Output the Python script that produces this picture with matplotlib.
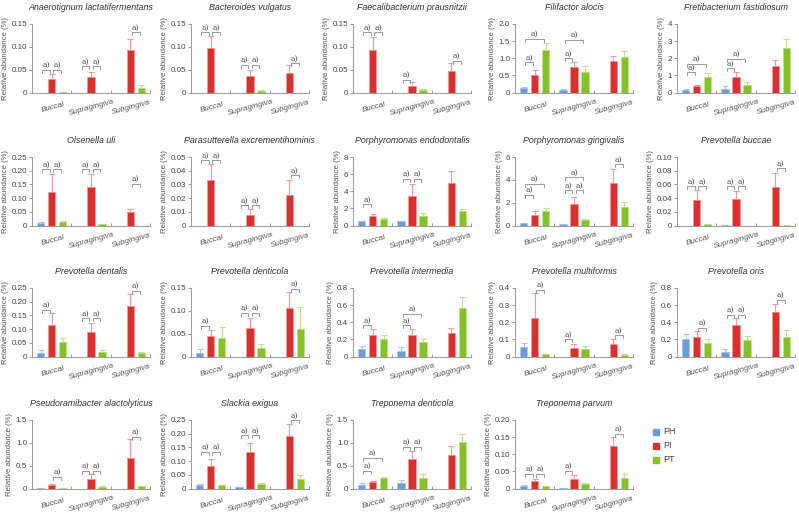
import matplotlib
matplotlib.use("Agg")
import matplotlib.pyplot as plt
import numpy as np

nan = np.nan

# site groups and patient groups
sites = ["Buccal", "Supragingiva", "Subgingiva"]
groups = ["PH", "PI", "PT"]
colors = ["#6b9bd8", "#d9302f", "#84c225"]
err_colors = ["#a9c6ea", "#f19a9a", "#bfe08f"]

species = [
    "Anaerotignum lactatifermentans", "Bacteroides vulgatus", "Faecalibacterium prausnitzii",
    "Filifactor alocis", "Fretibacterium fastidiosum",
    "Olsenella uli", "Parasutterella excrementihominis", "Porphyromonas endodontalis",
    "Porphyromonas gingivalis", "Prevotella buccae",
    "Prevotella dentalis", "Prevotella denticola", "Prevotella intermedia",
    "Prevotella multiformis", "Prevotella oris",
    "Pseudoramibacter alactolyticus", "Slackia exigua", "Treponema denticola",
    "Treponema parvum",
]

# y axis: (top, step, decimals)
y_axes = [
    (0.15, 0.05, 2), (0.15, 0.05, 2), (0.15, 0.05, 2), (2.0, 0.5, 1), (4, 1, 0),
    (0.25, 0.05, 2), (0.05, 0.01, 2), (8, 2, 0), (6, 2, 0), (0.10, 0.02, 2),
    (0.25, 0.05, 2), (0.15, 0.05, 2), (0.8, 0.2, 1), (0.4, 0.1, 1), (0.8, 0.2, 1),
    (1.5, 0.5, 1), (0.25, 0.05, 2), (1.5, 0.5, 1), (0.20, 0.05, 2),
]

# mean values [Buccal, Supragingiva, Subgingiva]
ph_vals = [
    [nan, nan, nan], [nan, nan, nan], [nan, nan, nan], [0.135, 0.077, nan], [0.17, 0.23, nan],
    [0.0085, nan, nan], [nan, nan, nan], [0.47, 0.47, nan], [0.2, 0.12, nan], [nan, 0.001, nan],
    [0.013, nan, nan], [0.0087, nan, nan], [0.085, 0.066, nan], [0.054, nan, nan], [0.2, 0.054, nan],
    [0.015, nan, nan], [0.012, 0.006, nan], [0.08, 0.124, nan], [0.0068, 0.002, nan],
]
pi_vals = [
    [0.030, 0.033, 0.092], [0.097, 0.037, 0.0435], [0.092, 0.015, 0.046], [0.52, 0.73, 0.92], [0.37, 0.93, 1.53],
    [0.124, 0.140, 0.049], [0.033, 0.008, 0.022], [1.09, 3.48, 5.0], [0.96, 1.84, 3.71], [0.0376, 0.038, 0.0566],
    [0.114, 0.088, 0.186], [0.044, 0.0616, 0.107], [0.25, 0.247, 0.278], [0.222, 0.048, 0.0715], [0.228, 0.363, 0.521],
    [0.08, 0.218, 0.663], [0.081, 0.135, 0.192], [0.146, 0.655, 0.743], [0.022, 0.027, 0.123],
]
pt_vals = [
    [0.0015, nan, 0.010], [nan, 0.004, nan], [nan, 0.005, nan], [1.25, 0.61, 1.05], [0.89, 0.46, 2.61],
    [0.012, 0.005, nan], [nan, nan, nan], [0.74, 1.09, 1.72], [1.26, 0.5, 1.58], [0.0015, nan, 0.001],
    [0.052, 0.016, 0.013], [0.041, 0.018, 0.061], [0.20, 0.166, 0.568], [0.012, 0.044, 0.010], [0.158, 0.193, 0.228],
    [0.015, 0.036, 0.044], [0.011, 0.017, 0.035], [0.219, 0.24, 1.02], [0.006, 0.012, 0.032],
]

# upper error extents
ph_err = [
    [0, 0, 0], [0, 0, 0], [0, 0, 0], [0.015, 0.023, 0], [0.03, 0.14, 0],
    [0.0035, 0, 0], [0, 0, 0], [0.03, 0.03, 0], [0.03, 0.02, 0], [0, 0, 0],
    [0.009, 0, 0], [0.0073, 0, 0], [0.039, 0.042, 0], [0.023, 0, 0], [0.066, 0.031, 0],
    [0.003, 0, 0], [0.006, 0.001, 0], [0.044, 0.066, 0], [0.002, 0.0005, 0],
]
pi_err = [
    [0.011, 0.012, 0.025], [0.027, 0.013, 0.0175], [0.029, 0.007, 0.019], [0.14, 0.17, 0.15], [0.07, 0.27, 0.34],
    [0.065, 0.047, 0.012], [0.012, 0.004, 0.0114], [0.28, 1.40, 1.40], [0.27, 0.62, 1.26], [0.0144, 0.013, 0.0204],
    [0.043, 0.036, 0.042], [0.015, 0.0234, 0.034], [0.074, 0.077, 0.054], [0.149, 0.027, 0.0325], [0.065, 0.089, 0.093],
    [0.015, 0.095, 0.427], [0.025, 0.032, 0.042], [0.021, 0.175, 0.197], [0.007, 0.011, 0.027],
]
pt_err = [
    [0, 0, 0.007], [0, 0.001, 0], [0, 0.003, 0], [0.19, 0.16, 0.16], [0.25, 0.14, 0.50],
    [0.005, 0.002, 0], [0, 0, 0], [0.12, 0.39, 0.23], [0.29, 0.08, 0.50], [0.0005, 0, 0.0003],
    [0.016, 0.006, 0.003], [0.024, 0.010, 0.047], [0.055, 0.034, 0.127], [0.003, 0.018, 0.003], [0.042, 0.05, 0.077],
    [0.003, 0.008, 0.014], [0.002, 0.004, 0.015], [0.043, 0.073, 0.17], [0.001, 0.0035, 0.01],
]

# significance brackets: (site, group a, group b, level)
brackets = [
    [(0, 0, 1, 0.05), (0, 1, 2, 0.05), (1, 0, 1, 0.058), (1, 1, 2, 0.058), (2, 1, 2, 0.132)],
    [(0, 0, 1, 0.132), (0, 1, 2, 0.132), (1, 0, 1, 0.061), (1, 1, 2, 0.061), (2, 1, 2, 0.0645)],
    [(0, 0, 1, 0.132), (0, 1, 2, 0.132), (1, 0, 1, 0.028), (2, 1, 2, 0.070)],
    [(0, 0, 1, 0.89), (0, 0, 2, 1.57), (1, 0, 1, 1.0), (1, 0, 2, 1.54)],
    [(0, 0, 1, 1.18), (0, 0, 2, 1.68), (1, 0, 1, 1.43), (1, 0, 2, 1.97)],
    [(0, 0, 1, 0.205), (0, 1, 2, 0.205), (1, 0, 1, 0.205), (1, 1, 2, 0.205), (2, 1, 2, 0.152)],
    [(0, 0, 1, 0.0476), (0, 1, 2, 0.0476), (1, 0, 1, 0.0146), (1, 1, 2, 0.0146), (2, 1, 2, 0.0366)],
    [(0, 0, 1, 2.46), (1, 0, 1, 5.47), (1, 1, 2, 5.47)],
    [(0, 0, 1, 2.69), (0, 0, 2, 3.65), (1, 0, 1, 3.07), (1, 1, 2, 3.07), (1, 0, 2, 4.24), (2, 1, 2, 5.35)],
    [(0, 0, 1, 0.0576), (0, 1, 2, 0.0576), (1, 0, 1, 0.0576), (1, 1, 2, 0.0576), (2, 1, 2, 0.084)],
    [(0, 0, 1, 0.171), (1, 0, 1, 0.139), (1, 1, 2, 0.139), (2, 1, 2, 0.240)],
    [(0, 0, 1, 0.067), (1, 0, 1, 0.0957), (1, 1, 2, 0.0957), (2, 1, 2, 0.1486)],
    [(0, 0, 1, 0.367), (1, 0, 1, 0.367), (1, 0, 2, 0.498)],
    [(0, 1, 2, 0.39), (1, 0, 1, 0.10), (2, 1, 2, 0.124)],
    [(0, 1, 2, 0.336), (1, 0, 1, 0.49), (1, 1, 2, 0.49), (2, 1, 2, 0.664)],
    [(0, 1, 2, 0.262), (1, 0, 1, 0.386), (1, 1, 2, 0.386), (2, 1, 2, 1.136)],
    [(0, 0, 1, 0.135), (0, 1, 2, 0.135), (1, 0, 1, 0.194), (1, 1, 2, 0.194), (2, 1, 2, 0.249)],
    [(0, 0, 1, 0.386), (0, 0, 2, 0.677), (1, 0, 1, 0.918), (1, 1, 2, 0.918)],
    [(0, 0, 1, 0.0437), (0, 1, 2, 0.0437), (1, 0, 1, 0.0515), (2, 1, 2, 0.160)],
]

plt.rcParams["font.family"] = ["Liberation Sans", "DejaVu Sans"]
W, H = 799, 513
fig = plt.figure(figsize=(W / 100, H / 100), dpi=100)

col_left = [32, 191, 353, 515, 677]
row_top = [24, 157, 288, 420]
ax_w, ax_h = 118, 68.5
offs = [-0.28, 0.0, 0.28]
bw = 0.19
text_c = "#555555"
line_c = "#8a8a8a"

all_vals = [ph_vals, pi_vals, pt_vals]
all_err = [ph_err, pi_err, pt_err]

for k, name in enumerate(species):
    r, c = divmod(k, 5)
    ax = fig.add_axes([col_left[c] / W, 1 - (row_top[r] + ax_h) / H, ax_w / W, ax_h / H])
    top, step, dec = y_axes[k]
    x = np.arange(3)
    for g in range(3):
        v = np.array(all_vals[g][k], dtype=float)
        e = np.array(all_err[g][k], dtype=float)
        ok = ~np.isnan(v)
        ax.bar(x[ok] + offs[g], v[ok], width=bw, color=colors[g],
               edgecolor=err_colors[g], linewidth=0.5, zorder=2)
        ax.errorbar(x[ok] + offs[g], v[ok], yerr=[np.zeros(ok.sum()), e[ok]], fmt="none",
                    ecolor=err_colors[g], elinewidth=0.8, capsize=1.9, capthick=0.8, zorder=1)

    dy = top * 3.0 / ax_h
    for (s, a, b, lev) in brackets[k]:
        x1 = s + offs[a] + 0.04
        x2 = s + offs[b] - 0.04
        ax.plot([x1, x1, x2, x2], [lev - dy, lev, lev, lev - dy], color=line_c, lw=0.6, zorder=3)
        ax.text((x1 + x2) / 2, lev + dy * 0.2, "a)", ha="center", va="bottom",
                fontsize=5.4, color="#444444", family="DejaVu Serif")

    ax.set_xlim(-0.5, 2.5)
    ax.set_ylim(0, top)
    ticks = np.arange(0, top + step / 2, step)
    ax.set_yticks(ticks)
    ax.set_yticklabels(["0" if t == 0 else f"{t:.{dec}f}" for t in ticks])
    ax.set_xticks(x)
    ax.set_xticklabels(sites, rotation=15, fontstyle="italic", fontsize=5.8, color=text_c,
                       rotation_mode="anchor", ha="center", va="top")
    ax.set_xticks([0.5, 1.5, 2.5], minor=True)
    ax.tick_params(axis="x", which="major", length=0, pad=8.5)
    ax.tick_params(axis="x", which="minor", length=2.5, direction="in", color=line_c, width=0.6)
    ax.tick_params(axis="y", length=2, width=0.6, color=line_c, labelsize=5.8,
                   labelcolor="#444444", pad=1.5)
    for sp in ["top", "right"]:
        ax.spines[sp].set_visible(False)
    for sp in ["left", "bottom"]:
        ax.spines[sp].set_color(line_c)
        ax.spines[sp].set_linewidth(0.6)
    ax.set_ylabel("Relative abundance (%)", fontsize=5.6, color=text_c, labelpad=2)
    ax.set_title(name, fontsize=6.4, fontstyle="italic", color="#333333", pad=10)

# legend
for g, lab in enumerate(groups):
    ly = 1 - (432 + g * 14) / H
    fig.patches.append(plt.Rectangle((653 / W, ly - 2.7 / H), 5.5 / W, 5.5 / H,
                                     transform=fig.transFigure, color=colors[g], figure=fig))
    fig.text(663 / W, ly, lab, fontsize=6.5, color="#444444", va="center")

fig.savefig("out.png", dpi=100)
